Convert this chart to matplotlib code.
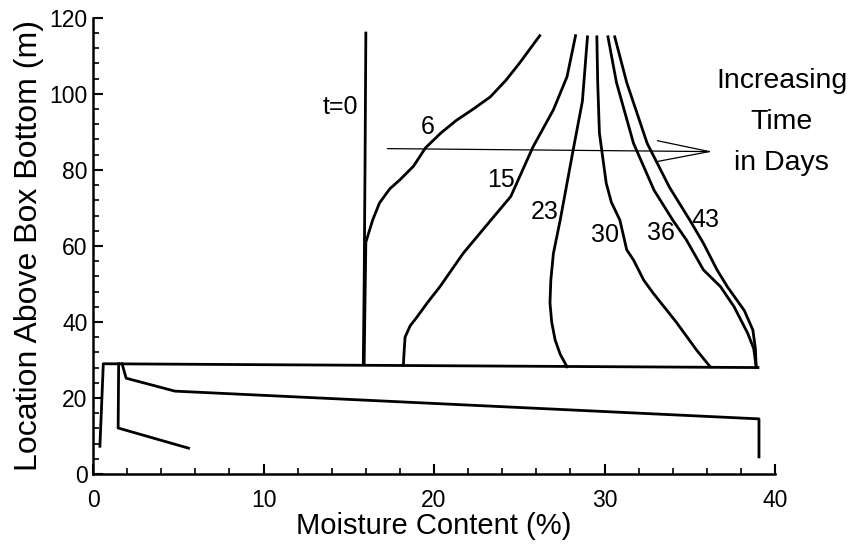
import numpy as np
import matplotlib
matplotlib.use("Agg")
import matplotlib.pyplot as plt
from matplotlib.ticker import MultipleLocator

plt.rcParams['font.family'] = ['Liberation Sans', 'DejaVu Sans']

# profiles above the box bottom (moisture %, height m)
t0_x = [16.0, 15.95, 15.9, 15.85]
t0_y = [116.0, 80.0, 50.0, 29.0]

d6_x = [15.9, 15.95, 16.0, 16.4, 16.8, 17.4, 18.0, 18.8, 19.5, 20.4, 21.3, 22.3, 23.3, 24.2, 25.0, 26.2]
d6_y = [29.0, 45.0, 61.0, 66.8, 71.3, 75.0, 77.4, 81.0, 85.8, 89.7, 93.0, 96.0, 99.2, 103.5, 108.0, 115.3]

d15_x = [18.2, 18.25, 18.3, 18.6, 19.0, 19.6, 20.35, 21.7, 23.3, 24.5, 25.8, 27.0, 27.8, 28.3]
d15_y = [28.7, 32.6, 36.0, 39.0, 41.3, 45.0, 49.3, 58.0, 66.6, 73.0, 86.0, 95.8, 104.5, 115.3]

d23_x = [27.8, 27.4, 27.1, 26.9, 26.8, 26.85, 27.0, 27.4, 28.15, 28.7, 29.0]
d23_y = [28.2, 31.5, 35.3, 40.0, 45.0, 51.0, 58.0, 66.8, 85.0, 98.0, 115.0]

d30_x = [36.2, 35.4, 34.2, 32.85, 32.3, 31.7, 31.3, 30.9, 30.4, 30.1, 29.7, 29.6, 29.55]
d30_y = [28.2, 32.6, 40.0, 47.6, 51.0, 56.3, 59.0, 66.8, 71.5, 76.5, 89.7, 103.0, 115.0]

d36_x = [38.9, 38.75, 38.4, 37.6, 36.8, 35.8, 34.8, 34.0, 32.9, 31.7, 30.7, 30.2]
d36_y = [28.0, 33.0, 37.0, 44.0, 49.3, 53.7, 61.6, 66.8, 74.7, 87.0, 103.0, 115.0]

d43_x = [38.9, 38.85, 38.7, 38.2, 37.2, 36.6, 35.8, 35.0, 33.8, 32.5, 31.3, 30.6]
d43_y = [28.0, 33.0, 37.9, 43.0, 49.3, 53.7, 60.7, 66.8, 75.5, 87.0, 103.0, 115.0]

# lower zone
base_x = [0.4, 0.6, 39.0]
base_y = [7.3, 29.0, 28.0]

low1_x = [1.7, 1.94, 4.8, 39.06, 39.06]
low1_y = [29.0, 25.2, 21.8, 14.5, 4.5]

low2_x = [1.5, 1.47, 5.6]
low2_y = [29.0, 12.1, 6.8]

curve_labels = ['t=0', '6', '15', '23', '30', '36', '43']
label_x = [14.5, 19.6, 23.9, 26.5, 30.0, 33.3, 35.9]
label_y = [96.6, 91.3, 77.4, 69.0, 63.0, 63.4, 66.8]

fig = plt.figure(figsize=(8.54, 5.57), dpi=100)
ax = fig.add_axes([0.109, 0.149, 0.7985, 0.819])

lw = 2.0
for xs, ys in [(t0_x, t0_y), (d6_x, d6_y), (d15_x, d15_y), (d23_x, d23_y),
               (d30_x, d30_y), (d36_x, d36_y), (d43_x, d43_y),
               (base_x, base_y), (low1_x, low1_y), (low2_x, low2_y)]:
    ax.plot(xs, ys, color='black', lw=lw, solid_joinstyle='round')

for lab, lx, ly in zip(curve_labels, label_x, label_y):
    ax.text(lx, ly, lab, fontsize=18, ha='center', va='center')

# arrow for increasing time
ax.annotate('', xy=(36.5, 84.8), xytext=(17.1, 85.6),
            arrowprops=dict(arrowstyle='->,head_length=2.5,head_width=0.5',
                            mutation_scale=15, color='black', lw=0.9))
ax.text(40.4, 92.5, 'Increasing\nTime\nin Days', fontsize=20.5, ha='center',
        va='center', linespacing=1.75, clip_on=False)

ax.set_xlim(0, 40)
ax.set_ylim(0, 120)
ax.xaxis.set_major_locator(MultipleLocator(10))
ax.xaxis.set_minor_locator(MultipleLocator(2))
ax.yaxis.set_major_locator(MultipleLocator(20))
ax.yaxis.set_minor_locator(MultipleLocator(4))
ax.tick_params(which='major', direction='in', length=7, width=1.5, labelsize=16.5)
ax.tick_params(which='minor', direction='in', length=4, width=1.2)
ax.tick_params(axis='x', pad=11)
ax.tick_params(axis='y', pad=4)
for s in ['top', 'right']:
    ax.spines[s].set_visible(False)
for s in ['left', 'bottom']:
    ax.spines[s].set_linewidth(1.8)

ax.set_xlabel('Moisture Content (%)', fontsize=21, labelpad=0)
ax.set_ylabel('Location Above Box Bottom (m)', fontsize=23, labelpad=4)

fig.savefig('out.png', dpi=100)
